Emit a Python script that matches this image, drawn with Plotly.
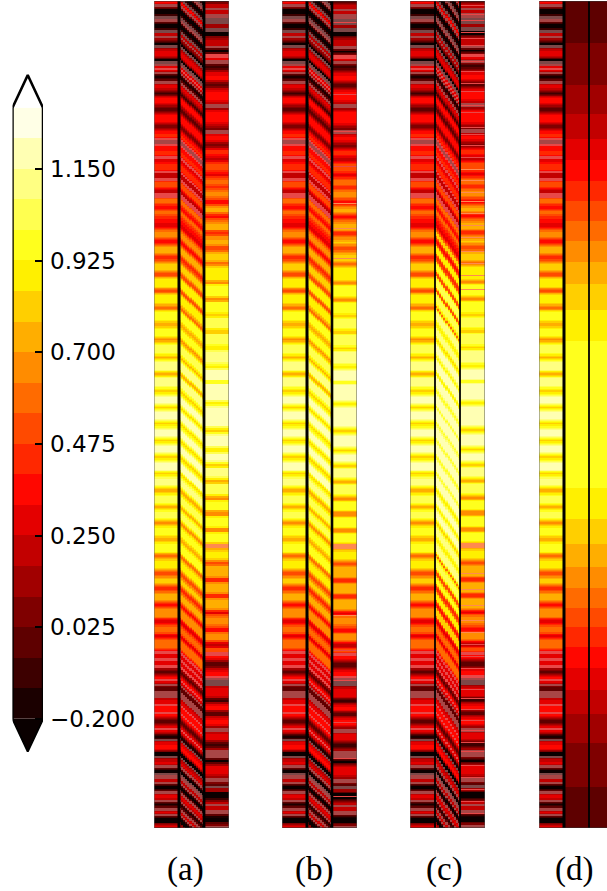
import numpy as np
import plotly.graph_objects as go

W, H = 607, 891

# colour levels: index 0..19 between -0.2 and 1.3, -1 under, 20 over; -2..-5 blended tones seen in the strips
hot_palette = {-5: "#ff8a50", -4: "#e84848", -3: "#a84646", -2: "#7c4848", -1: "#0a0000",
               0: "#1b0000", 1: "#3d0000", 2: "#5e0000", 3: "#7f0000", 4: "#a10000", 5: "#c20000",
               6: "#e40000", 7: "#ff0700", 8: "#ff2800", 9: "#ff4a00", 10: "#ff6b00", 11: "#ff8c00",
               12: "#ffae00", 13: "#ffcf00", 14: "#fff000", 15: "#ffff1d", 16: "#ffff50", 17: "#ffff82",
               18: "#ffffb3", 19: "#ffffe6", 20: "#ffffff"}
blend_equiv = {-5: 10, -4: 6, -3: 4, -2: 3, -1: -0.5}

cbar_ticks = [-0.2, 0.025, 0.25, 0.475, 0.7, 0.925, 1.15]
cbar_labels = ["\u22120.200", "0.025", "0.250", "0.475", "0.700", "0.925", "1.150"]
cbar_edges = [round(-0.2 + 0.075 * i, 3) for i in range(21)]
cbar_levels = list(range(20))
cbar_under, cbar_over = -0.28, 1.38

# (depth at which the band ends, colour level)
center_bands = [(3,7),(6,-3),(8,3),(13,-1),(15,1),(18,-2),(21,-3),(23,1),(27,-1),(29,1),(32,-2),(35,6),(37,-3),(40,4),
 (42,2),(44,-1),(47,-2),(50,5),(56,6),(58,3),(60,-1),(63,-2),(65,-3),(67,7),(69,-4),(71,6),(73,-3),(74,2),(78,0),(80,2),
 (83,-3),(87,6),(90,5),(92,2),(94,0),(96,4),(103,7),(106,4),(107,3),(111,2),(113,4),(118,7),(122,7),(124,4),(127,2),
 (129,5),(133,7),(137,8),(139,-4),(143,-3),(145,-4),(150,7),(155,8),(158,-4),(162,6),(170,8),(172,-4),(177,5),(180,-4),(187,9),(188,7),
 (192,5),(197,-4),(203,10),(205,8),(208,6),(210,9),(214,10),(218,8),(222,7),(227,6),(230,9),(237,11),(238,8),(243,7),
 (245,9),(253,12),(255,9),(259,8),(262,10),(270,13),(272,10),(275,8),(277,11),(287,14),(288,11),(292,9),(293,12),
 (303,14),(305,12),(309,10),(310,13),(320,15),(322,13),(323,11),(324,13),(325,11),(327,13),(336,15),(337,12),(340,11),
 (343,13),(353,16),(355,14),(358,12),(360,14),(370,17),(371,14),(375,12),(376,14),(386,17),(388,15),(392,13),(395,15),
 (403,18),(405,15),(408,13),(410,15),(420,18),(424,13),(428,15),(436,18),(438,15),(441,13),(444,15),(452,18),(454,15),
 (458,13),(461,15),(470,18),(471,15),(474,13),(477,15),(485,17),(487,14),(492,12),(494,14),(503,16),(504,12),(505,14),
 (507,11),(510,14),(518,16),(520,13),(524,11),(527,14),(535,15),(537,13),(540,11),(543,14),(552,15),(553,12),(557,10),
 (560,13),(568,14),(570,11),(575,9),(577,11),(583,13),(585,10),(590,8),(592,10),(600,12),(602,9),(606,7),(608,10),
 (617,11),(618,8),(623,6),(627,9),(629,11),(631,9),(633,10),(637,6),(639,9),(648,10),(650,7),(653,-4),(655,5),(657,7),
 (660,-4),(664,6),(667,-4),(669,4),(673,2),(675,5),(678,7),(680,-4),(683,6),(685,-3),(687,3),(690,1),(697,-3),(699,5),
 (703,6),(705,-4),(711,7),(713,-4),(716,7),(718,4),(722,2),(724,3),(727,6),(729,-4),(732,6),(734,3),(738,0),(740,-2),(744,6),(749,7),(751,4),
 (755,-1),(757,-2),(761,5),(764,6),(767,-3),(769,2),(772,-1),(774,-2),(778,-3),(781,5),(783,-3),(785,2),(788,-1),
 (790,2),(793,-3),(797,6),(799,5),(801,-3),(802,2),(805,0),(807,2),(810,-3),(813,6),(815,-3),(817,2),(822,-1),(824,4),(828,6)]

right_bands = [(3,2),(8,5),(10,-3),(13,5),(18,-3),(24,-2),(27,4),(31,-2),(35,-1),(38,3),(45,5),(48,-3),(50,2),(51,-1),
 (54,2),(57,-4),(60,6),(63,-3),(65,2),(68,1),(71,3),(75,6),(80,7),(82,4),(87,2),(90,5),(95,7),(100,7),(103,5),(107,-3),
 (110,4),(118,7),(123,7),(126,5),(129,3),(133,-3),(136,6),(140,7),(143,5),(147,3),(149,6),(155,8),(157,6),(160,4),
 (162,7),(168,9),(170,10),(172,8),(176,6),(178,8),(185,10),(187,7),(190,9),(197,11),(199,9),(204,7),(207,10),(213,12),
 (218,7),(222,10),(230,12),(235,8),(240,11),(243,13),(245,11),(250,9),(253,11),(261,13),(265,10),(267,13),(280,14),
 (284,11),(296,15),(297,12),(301,11),(313,15),(317,13),(328,16),(330,14),(333,12),(345,16),(347,14),(350,13),(363,17),
 (365,15),(368,13),(380,18),(383,14),(400,18),(402,15),(405,13),(427,18),(433,13),(447,18),(452,13),(462,18),(467,13),
 (478,17),(483,12),(495,16),(500,11),(510,15),(516,11),(527,15),(532,11),(543,15),(548,-5),(551,13),(560,14),(565,9),
 (577,12),(582,8),(593,12),(598,8),(610,12),(614,6),(617,10),(624,11),(626,9),(627,10),(632,7),(640,11),(642,8),(647,5),
 (652,9),(655,-4),(658,8),(661,5),(667,2),(670,5),(675,7),(677,-4),(680,-3),(685,-2),(687,4),(697,6),(698,3),(702,1),
 (705,5),(710,7),(712,3),(715,1),(718,5),(725,7),(728,4),(732,-3),(740,6),(742,3),(747,1),(750,4),(757,-3),(760,2),
 (762,-1),(765,3),(775,6),(778,4),(782,-3),(785,2),(788,-2),(792,4),(798,-1),(801,2),(804,5),(806,-3),(810,5),(814,-3),
 (817,1),(822,-1),(825,3),(828,-3)]

# thin light lines seen in the right-hand strip of (b) and (c): depth, level
streaks_b = [(22,-4),(58,-4),(94,-4),(131,-4),(166,-4),(203,-5),(228,-5),(258,-5),(615,-5),(650,-4),(680,-4),(722,-4),(758,-4),(796,-4)]
streaks_c = [(6,-4),(15,-4),(21,-4),(33,-4),(39,-4),(46,-4),(55,-4),(62,-4),(72,-4),(84,-4),(92,-4),(106,-4),(113,-4),
             (128,-4),(135,-4),(146,-4),(158,-4),(170,-5),(181,-5),(193,-5),(202,-5),(214,-5),(226,-5),(238,-5),(252,-5),
             (264,-5),(276,-5),(290,-5),(574,-5),(590,-5),(606,-5),(621,-5),(633,-5),(645,-4),(657,-4),(669,-4),(678,-4),
             (690,-4),(699,-4),(710,-4),(721,-4),(731,-4),(743,-4),(752,-4),(766,-4),(778,-4),(790,-4),(802,-4),(814,-4)]

coarse_edges = [1,43,85,114,139,160,181,201,221,241,262,284,310,341,488,519,544,567,588,608,627,647,668,690,714,743,787,828]
coarse_levels = [2,3,4,5,6,7,8,9,10,11,12,13,14,15,14,13,12,11,10,9,8,7,6,5,4,3,2]

panel_labels = ["(a)", "(b)", "(c)", "(d)"]
label_centers = [185, 314, 444, 574]
panel_left = [154, 282, 410, 539]
panel_slant = [1.0, 1.0, 1.4, None]   # depth shift per unit of width along the slanted strip
slant_lift = [0, 0, 2, None]          # the bright part of (c)'s slanted strip reads paler
right_tilt = [0.0, 0.03, -0.04, None]
right_streaks = [[], streaks_b, streaks_c, None]
divider_widths = [(3, 2.8), (3, 2.6), (1.8, 1.8), (3, 1.8)]
TOP, BOTTOM, COLW = 1, 828, 25
ROWS = np.arange(TOP, BOTTOM + 1)

zmin, zmax = -5.5, 20.5
keys = sorted(hot_palette)
scale = []
for i, k in enumerate(keys):
    scale += [[i / len(keys), hot_palette[k]], [(i + 1) / len(keys), hot_palette[k]]]


def soften(bands):
    """Band list to one level per depth row, with the soft edge the strips show between bands."""
    ends = np.array([b[0] for b in bands])
    vals = [b[1] for b in bands]
    raw = np.array([vals[min(np.searchsorted(ends, d), len(vals) - 1)] for d in ROWS[:-1]], dtype=float)
    eq = np.array([blend_equiv.get(int(v), v) for v in raw])
    pad = np.pad(eq, 2, mode="edge")
    avg = np.convolve(pad, np.array([1, 2, 3, 2, 1]) / 9, mode="valid")
    out = np.where(raw < 0, raw, np.round(avg))
    return np.maximum(out, np.where(raw < 0, raw, 0))


def sampled(profile, depth):
    idx = np.clip(np.round(depth - TOP).astype(int), 0, len(profile) - 1)
    return profile[idx]


def hm(x, y, z, xa, ya):
    return go.Heatmap(x=x, y=y, z=z, xaxis=xa, yaxis=ya, colorscale=scale, zmin=zmin, zmax=zmax,
                      showscale=False, hoverinfo="skip")


center = soften(center_bands)
right = soften(right_bands)


def slanted(shift, lift, cols=12):
    out = np.zeros((len(center), cols))
    for c in range(cols):
        d = ROWS[:-1] + 0.5 - shift * c * COLW / cols
        d = np.where(d < TOP, d + 33, d)
        v = sampled(center, d)
        out[:, c] = np.where(v >= 11, np.minimum(v + lift, 18), v)
    return out.tolist()


def tilted(tilt, streaks, cols=6):
    prof = right.copy()
    for depth, lev in streaks:
        prof[depth - TOP] = lev
    out = np.zeros((len(prof), cols))
    for c in range(cols):
        d = ROWS[:-1] + 0.5 - tilt * (c + 0.5) * COLW / cols
        out[:, c] = sampled(prof, d)
    return out.tolist()


def px_x(p):
    return p / W


def px_y(p):
    return 1 - p / H


fig = go.Figure()
layout = {}
shapes = []
row_edges = ROWS.tolist()
for i, left in enumerate(panel_left):
    name = "x" if i == 0 else f"x{i+1}"
    key = "xaxis" if i == 0 else f"xaxis{i+1}"
    edge = min(left + 3 * COLW, W)
    span = (edge - left) / COLW
    layout[key] = dict(domain=[px_x(left), px_x(edge)], range=[0, span], visible=False, anchor="y", fixedrange=True)
    fig.add_trace(hm([0, 1], row_edges, center.reshape(-1, 1).tolist(), name, "y"))
    if panel_slant[i] is not None:
        fig.add_trace(hm(np.linspace(1, 2, 13).tolist(), row_edges, slanted(panel_slant[i], slant_lift[i]), name, "y"))
        fig.add_trace(hm(np.linspace(2, 3, 7).tolist(), row_edges, tilted(right_tilt[i], right_streaks[i]), name, "y"))
    else:
        z = [[v] for v in coarse_levels]
        fig.add_trace(hm([1, 2], coarse_edges, z, name, "y"))
        fig.add_trace(hm([2, 3], coarse_edges, z, name, "y"))
    for xv, w in zip((1, 2), divider_widths[i]):
        shapes.append(dict(type="line", xref=name, yref="y", x0=xv, x1=xv, y0=TOP, y1=BOTTOM,
                           line=dict(color="black", width=w), layer="above"))
    shapes.append(dict(type="line", xref=name, yref="y", x0=0, x1=span, y0=BOTTOM, y1=BOTTOM,
                       line=dict(color="#333333", width=1)))
    shapes.append(dict(type="line", xref=name, yref="y", x0=0, x1=span, y0=TOP, y1=TOP,
                       line=dict(color="#333333", width=1)))
    shapes.append(dict(type="line", xref=name, yref="y", x0=0, x1=0, y0=TOP, y1=BOTTOM,
                       line=dict(color="#666666", width=1)))
    if edge < W:
        shapes.append(dict(type="line", xref=name, yref="y", x0=3, x1=3, y0=TOP, y1=BOTTOM,
                           line=dict(color="#555555", width=1)))

layout["yaxis"] = dict(domain=[px_y(BOTTOM), px_y(TOP)], range=[BOTTOM, TOP], visible=False, anchor="x", fixedrange=True)

# colour bar on its own value axis
unit = (719 - 168) / 1.35
lo, hi = -0.32, 1.42
y_lo = 719 + (-0.2 - lo) * unit
y_hi = 107.8 - (hi - 1.3) * unit
layout["xaxis5"] = dict(domain=[px_x(12.5), px_x(43)], range=[0, 1], visible=False, anchor="y2", fixedrange=True)
layout["yaxis2"] = dict(domain=[px_y(y_lo), px_y(y_hi)], range=[lo, hi], anchor="x5", side="right", fixedrange=True,
                        tickvals=cbar_ticks, ticktext=cbar_labels, ticks="inside", ticklen=8, tickwidth=1.5,
                        tickcolor="black", showgrid=False, zeroline=False, showline=False, ticklabelstandoff=6,
                        tickfont=dict(family="DejaVu Sans", size=23, color="black"), layer="above traces")
fig.add_trace(go.Scatter(x=[0, 0.5, 1], y=[-0.2, cbar_under, -0.2], xaxis="x5", yaxis="y2", mode="lines", fill="toself",
                         fillcolor=hot_palette[-1], line=dict(color="black", width=2), hoverinfo="skip",
                         showlegend=False, cliponaxis=False))
fig.add_trace(go.Scatter(x=[0, 0.5, 1], y=[1.3, cbar_over, 1.3], xaxis="x5", yaxis="y2", mode="lines", fill="toself",
                         fillcolor="white", line=dict(color="black", width=2.5), hoverinfo="skip",
                         showlegend=False, cliponaxis=False))
fig.add_trace(hm([0, 1], cbar_edges, [[v] for v in cbar_levels], "x5", "y2"))
fig.add_trace(go.Scatter(x=[0, 0, None, 1, 1], y=[-0.2, 1.3, None, 1.3, -0.2], xaxis="x5", yaxis="y2", mode="lines",
                         line=dict(color="black", width=2.5), hoverinfo="skip", showlegend=False, cliponaxis=False))

annotations = [dict(text=t, x=px_x(cx), y=px_y(869), xref="paper", yref="paper", showarrow=False,
                    xanchor="center", yanchor="middle",
                    font=dict(family="Liberation Serif", size=33, color="black"))
               for t, cx in zip(panel_labels, label_centers)]

fig.update_layout(width=W, height=H, margin=dict(l=0, r=0, t=0, b=0, pad=0), paper_bgcolor="white",
                  plot_bgcolor="white", showlegend=False, shapes=shapes, annotations=annotations, **layout)
fig.write_html("out.html", config={"displayModeBar": False},
               post_script="document.body.style.margin='0';document.documentElement.style.overflow='hidden';")
